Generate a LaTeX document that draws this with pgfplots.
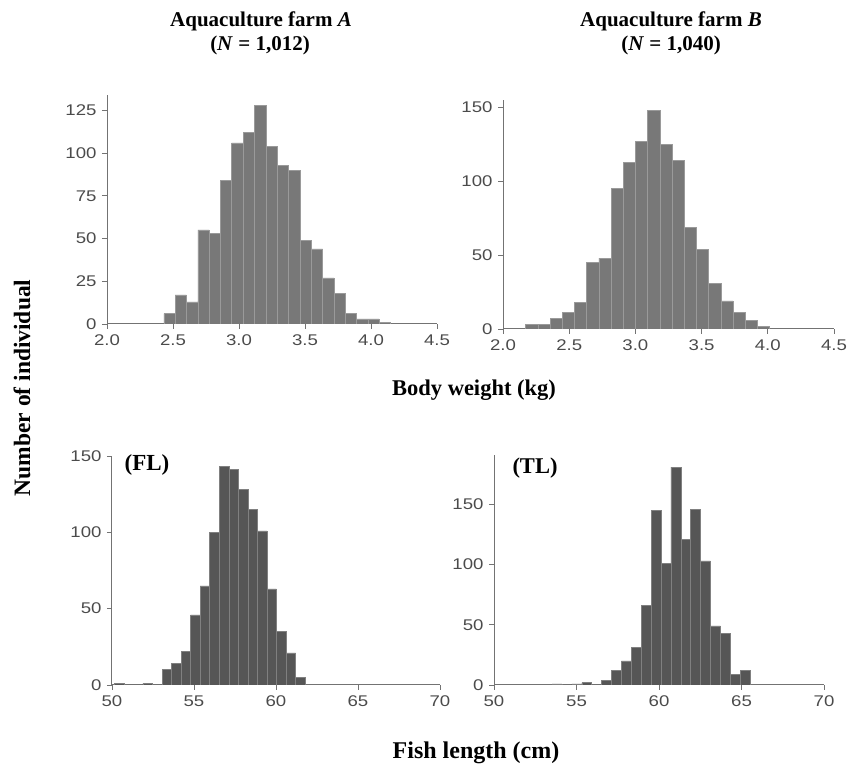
\documentclass[border=0pt]{standalone}
\usepackage{fontspec}
\setmainfont{Liberation Serif}
\newfontfamily\tickfont[FakeStretch=1.2]{Liberation Sans}
\usepackage{pgfplots}
\pgfplotsset{compat=1.18}

\definecolor{bartop}{RGB}{120,120,120}
\definecolor{barbot}{RGB}{86,86,86}
\definecolor{axisgray}{RGB}{115,115,115}
\definecolor{tickgray}{RGB}{75,75,75}

\pgfplotsset{
  histo/.style={
    scale only axis,
    axis lines=left,
    axis line style={-, draw=axisgray, line width=1pt},
    tick style={draw=axisgray, line width=0.8pt},
    major tick length=5pt,
    tick align=outside,
    enlargelimits=false,
    ymin=0,
    tick label style={font=\tickfont\fontsize{15.5}{17}\selectfont, text=tickgray},
    xticklabel style={yshift=-2pt},
    yticklabel style={xshift=-2pt},
    /pgf/number format/assume math mode=true,
  },
  bars/.style={ybar interval, fill=#1, draw=#1!75!white, line width=0.5pt},
}

\begin{document}
\begin{tikzpicture}[x=1pt,y=1pt]
\useasboundingbox (0,0) rectangle (847,767);

% farm A, body weight
\begin{axis}[histo, at={(107pt,443pt)}, anchor=south west,
  width=330pt, height=229pt,
  xmin=2, xmax=4.5, ymax=134,
  xtick={2,2.5,3,3.5,4,4.5}, ytick={0,25,50,75,100,125},
  xticklabel style={/pgf/number format/.cd, fixed, fixed zerofill, precision=1}]
\addplot[bars=bartop] coordinates {
  (2.430,6) (2.516,17) (2.602,13) (2.688,55) (2.774,53) (2.860,84)
  (2.945,106) (3.031,112) (3.117,128) (3.203,104) (3.289,93) (3.375,90)
  (3.461,49) (3.547,44) (3.633,27) (3.719,18) (3.805,6) (3.890,3)
  (3.976,3) (4.062,1) (4.148,0)};
\end{axis}

% farm B, body weight
\begin{axis}[histo, at={(503pt,438pt)}, anchor=south west,
  width=331pt, height=229pt,
  xmin=2, xmax=4.5, ymax=155,
  xtick={2,2.5,3,3.5,4,4.5}, ytick={0,50,100,150},
  xticklabel style={/pgf/number format/.cd, fixed, fixed zerofill, precision=1}]
\addplot[bars=bartop] coordinates {
  (2.171,3) (2.263,3) (2.355,7) (2.447,11) (2.539,18) (2.632,45)
  (2.724,48) (2.816,95) (2.908,113) (3.000,127) (3.092,148) (3.184,125)
  (3.276,114) (3.368,69) (3.460,54) (3.553,31) (3.645,19) (3.737,11)
  (3.829,6) (3.921,2) (4.013,0)};
\end{axis}

% fork length
\begin{axis}[histo, at={(112pt,82pt)}, anchor=south west,
  width=328pt, height=229pt,
  xmin=50, xmax=70, ymax=150,
  xtick={50,55,60,65,70}, ytick={0,50,100,150}]
\addplot[bars=barbot] coordinates {
  (50.14,1) (50.72,0) (51.30,0) (51.89,1) (52.47,0)
  (53.05,10) (53.63,14) (54.21,22) (54.80,46) (55.38,65) (55.96,100)
  (56.54,143) (57.12,141) (57.71,128) (58.29,115) (58.87,101) (59.45,63)
  (60.03,35) (60.62,21) (61.20,5) (61.78,0)};
\end{axis}

% total length
\begin{axis}[histo, at={(494pt,82pt)}, anchor=south west,
  width=330pt, height=230pt,
  xmin=50, xmax=70, ymax=191,
  xtick={50,55,60,65,70}, ytick={0,50,100,150}]
\addplot[bars=barbot] coordinates {
  (53.52,1) (54.12,0) (54.72,1) (55.32,2) (55.92,0)
  (56.52,4) (57.12,12) (57.72,20) (58.32,31) (58.92,66) (59.52,145)
  (60.12,101) (60.72,181) (61.32,121) (61.92,146) (62.52,103) (63.12,49)
  (63.72,43) (64.32,9) (64.92,12) (65.52,0)};
\end{axis}

\node[font=\bfseries\fontsize{21}{24}\selectfont] at (261,746) {Aquaculture farm \textit{A}};
\node[font=\bfseries\fontsize{21}{24}\selectfont] at (260,722) {(\textit{N} = 1,012)};
\node[font=\bfseries\fontsize{21}{24}\selectfont] at (671,746) {Aquaculture farm \textit{B}};
\node[font=\bfseries\fontsize{21}{24}\selectfont] at (671,722) {(\textit{N} = 1,040)};

\node[font=\bfseries\fontsize{22.5}{26}\selectfont] at (474,377) {Body weight (kg)};
\node[font=\bfseries\fontsize{24}{28}\selectfont] at (476,14) {Fish length (cm)};
\node[font=\bfseries\fontsize{23.5}{28}\selectfont, rotate=90] at (22,379) {Number of individual};

\node[font=\bfseries\fontsize{23}{26}\selectfont] at (147,302) {(FL)};
\node[font=\bfseries\fontsize{22.5}{26}\selectfont] at (535,299) {(TL)};
\end{tikzpicture}
\end{document}
